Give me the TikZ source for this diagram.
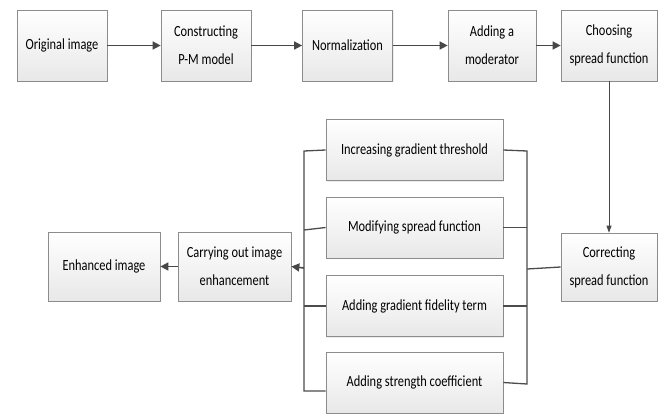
\documentclass[tikz,border=0pt]{standalone}
\usepackage{fontspec}
\setmainfont{Carlito}[FakeStretch=0.8]
\usetikzlibrary{arrows.meta,shadows}

\begin{document}
\begin{tikzpicture}[
  x=1pt, y=-1pt,
  stage box/.style={rectangle, draw=black!45, line width=0.7pt, top color=white, bottom color=black!9,
    drop shadow={shadow xshift=1.2pt, shadow yshift=-1.2pt, fill=black!14},
    align=center, inner sep=2pt, font=\fontsize{15.5}{28}\selectfont},
  top box/.style={stage box, minimum width=90, minimum height=71},
  way box/.style={stage box, minimum width=177, minimum height=61},
  arr/.style={-{Triangle[length=8pt,width=8pt]}, line width=1.6pt, draw=black!72},
  link/.style={line width=1.3pt, draw=black!70}
]
\useasboundingbox (0,0) rectangle (662,413);

% Nodes
\node[top box] (orig) at (62,45.5) {Original image};
\node[top box] (pm) at (206,45.5) {Constructing\\P-M model};
\node[top box] (norm) at (347.5,45.5) {Normalization};
\node[top box, minimum width=88] (mod) at (492,45.5) {Adding a\\moderator};
\node[top box, minimum width=96] (choose) at (609,45.5) {Choosing\\spread function};

\node[way box] (inc) at (414.5,150) {Increasing gradient threshold};
\node[way box] (modif) at (414.5,227.5) {Modifying spread function};
\node[way box] (fid) at (414.5,306) {Adding gradient fidelity term};
\node[way box] (str) at (414.5,382.5) {Adding strength coefficient};

\node[stage box, minimum width=112, minimum height=69] (enh) at (104,266.5) {Enhanced image};
\node[stage box, minimum width=113, minimum height=69] (carry) at (234.5,266.5) {Carrying out image\\enhancement};
\node[stage box, minimum width=96, minimum height=68] (corr) at (609,267) {Correcting\\spread function};

% Bracket corners
\coordinate (ltop) at (304,151);
\coordinate (lmod) at (304,230);
\coordinate (lout) at (304,268);
\coordinate (lbot) at (304,391);
\coordinate (rtop) at (527,151);
\coordinate (rin) at (527,269);
\coordinate (rbot) at (527,384);

% Top row
\draw[arr] (orig) -- (pm);
\draw[arr] (pm) -- (norm);
\draw[arr] (norm) -- (mod);
\draw[arr] (mod) -- (choose);
\draw[-{Triangle[length=7pt,width=5pt]}, line width=0.9pt, draw=black!72] (choose) -- (corr);

% Right bracket
\draw[link] (corr.west) -- (rin);
\draw[link] (inc.east) -- (rtop) -- (rbot) -- (str.east);
\draw[link] (modif.east) -- (modif.east -| rtop);
\draw[link] (fid.east) -- (fid.east -| rtop);

% Left bracket
\draw[link] (inc.west) -- (ltop) -- (lbot) -- (str.west |- lbot);
\draw[link] (lmod) -- (modif.west);
\draw[link] (fid.west) -- (fid.west -| ltop);
\draw[arr] (lout) -- (carry.east);
\draw[arr] (carry) -- (enh);
\end{tikzpicture}
\end{document}
